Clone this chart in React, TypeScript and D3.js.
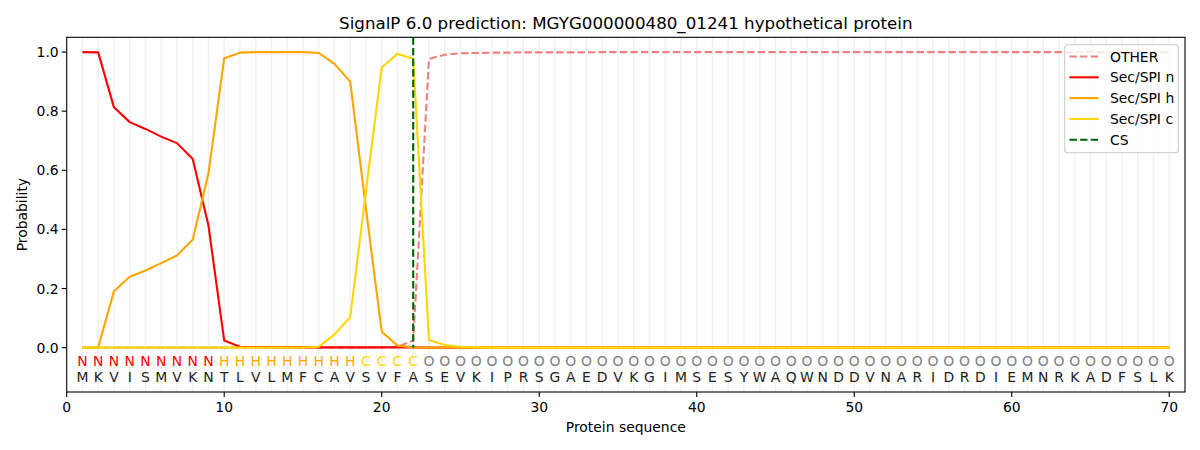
import React from "react";
import * as d3 from "d3";

const sequence = "MKVISMVKNTLVLMFCAVSVFASEVKIPRSGAEDVKGIMSESYWAQWNDDVNARIDRDIEMNRKADFSLK".split("");
const regionLabels = "NNNNNNNNNHHHHHHHHHCCCCOOOOOOOOOOOOOOOOOOOOOOOOOOOOOOOOOOOOOOOOOOOOOOOO".split("");

const otherProb = [
  0, 0, 0, 0, 0, 0, 0, 0, 0, 0,
  0, 0, 0, 0, 0, 0, 0, 0, 0, 0.001,
  0.003, 0.024, 0.977, 0.991, 0.996, 0.997, 0.998, 0.998, 0.999, 0.999,
  0.999, 0.999, 0.999, 1, 1, 1, 1, 1, 1, 1,
  1, 1, 1, 1, 1, 1, 1, 1, 1, 1,
  1, 1, 1, 1, 1, 1, 1, 1, 1, 1,
  1, 1, 1, 1, 1, 1, 1, 1, 1, 1,
];
const secN = [
  1.0, 0.999, 0.813, 0.763, 0.74, 0.714, 0.692, 0.638, 0.413, 0.024,
  0.003, 0.002, 0.001, 0.001, 0.001, 0.001, 0.001, 0.001, 0.001, 0.001,
  0.001, 0.001, 0, 0, 0, 0, 0, 0, 0, 0,
  0, 0, 0, 0, 0, 0, 0, 0, 0, 0,
  0, 0, 0, 0, 0, 0, 0, 0, 0, 0,
  0, 0, 0, 0, 0, 0, 0, 0, 0, 0,
  0, 0, 0, 0, 0, 0, 0, 0, 0, 0,
];
const secH = [
  0, 0.001, 0.191, 0.24, 0.261, 0.286, 0.312, 0.365, 0.59, 0.979,
  0.998, 1.0, 1.0, 1.0, 1.0, 0.997, 0.96, 0.9, 0.47, 0.054,
  0.007, 0.001, 0, 0, 0, 0, 0, 0, 0, 0,
  0, 0, 0, 0, 0, 0, 0, 0, 0, 0,
  0, 0, 0, 0, 0, 0, 0, 0, 0, 0,
  0, 0, 0, 0, 0, 0, 0, 0, 0, 0,
  0, 0, 0, 0, 0, 0, 0, 0, 0, 0,
];
const secC = [
  0, 0, 0, 0, 0, 0, 0, 0, 0, 0,
  0, 0, 0, 0, 0, 0.003, 0.045, 0.103, 0.53, 0.948,
  0.994, 0.977, 0.026, 0.009, 0.003, 0.001, 0, 0, 0, 0,
  0, 0, 0, 0, 0, 0, 0, 0, 0, 0,
  0, 0, 0, 0, 0, 0, 0, 0, 0, 0,
  0, 0, 0, 0, 0, 0, 0, 0, 0, 0,
  0, 0, 0, 0, 0, 0, 0, 0, 0, 0,
];
const cleavageSite = 22;
const xTicks = [0, 10, 20, 30, 40, 50, 60, 70];
const yTicks = [0, 0.2, 0.4, 0.6, 0.8, 1.0];
const title = "SignalP 6.0 prediction: MGYG000000480_01241 hypothetical protein";

const series = [
  { name: "OTHER", values: otherProb, color: "#F08080", dash: "7.4,3.2" },
  { name: "Sec/SPI n", values: secN, color: "#FF0000", dash: null },
  { name: "Sec/SPI h", values: secH, color: "#FFA500", dash: null },
  { name: "Sec/SPI c", values: secC, color: "#FFD700", dash: null },
];
const labelColors: Record<string, string> = { N: "#FF0000", H: "#FFA500", C: "#FFD700", O: "#808080" };

const W = 1200, H = 450;
const left = 66.7, right = 1185, top = 37.3, bottom = 392;
const font = "'DejaVu Sans', sans-serif";

export default function App() {
  const x = d3.scaleLinear().domain([0, 71]).range([left, right]);
  const y = d3.scaleLinear().domain([-0.15, 1.05]).range([bottom, top]);
  const positions = sequence.map((_, i) => i + 1);
  const line = d3.line<number>().x((_, i) => x(i + 1)).y((v) => y(v));

  const legendItems = [
    ...series.map((s) => ({ name: s.name, color: s.color, dash: s.dash })),
    { name: "CS", color: "#006400", dash: "7.4,3.2" },
  ];

  return (
    <svg width={W} height={H} style={{ position: "absolute", left: 0, top: 0, background: "#fff" }} fontFamily={font}>
      <rect x={0} y={0} width={W} height={H} fill="#fff" />
      <text x={(left + right) / 2} y={29} textAnchor="middle" fontSize={16.7} fill="#000">{title}</text>
      {positions.map((p) => (
        <line key={"g" + p} x1={x(p)} x2={x(p)} y1={top} y2={bottom} stroke="#f0f0f0" strokeWidth={1.4} />
      ))}
      {series.map((s) => (
        <path key={s.name} d={line(s.values) || ""} fill="none" stroke={s.color} strokeWidth={2.1}
          strokeDasharray={s.dash || undefined} strokeLinejoin="round" />
      ))}
      <line x1={x(cleavageSite)} x2={x(cleavageSite)} y1={top} y2={y(0)} stroke="#006400" strokeWidth={2.1} strokeDasharray="7.4,3.2" />
      {positions.map((p, i) => (
        <g key={"t" + p}>
          <text x={x(p)} y={366} textAnchor="middle" fontSize={13.9} fill={labelColors[regionLabels[i]]}>{regionLabels[i]}</text>
          <text x={x(p)} y={382} textAnchor="middle" fontSize={13.9} fill="#222">{sequence[i]}</text>
        </g>
      ))}
      <rect x={left} y={top} width={right - left} height={bottom - top} fill="none" stroke="#000" strokeWidth={1.1} />
      {xTicks.map((t) => (
        <g key={"xt" + t}>
          <line x1={x(t)} x2={x(t)} y1={bottom} y2={bottom + 4.9} stroke="#000" strokeWidth={1.1} />
          <text x={x(t)} y={bottom + 19.5} textAnchor="middle" fontSize={13.9} fill="#000">{t}</text>
        </g>
      ))}
      {yTicks.map((t) => (
        <g key={"yt" + t}>
          <line x1={left - 4.9} x2={left} y1={y(t)} y2={y(t)} stroke="#000" strokeWidth={1.1} />
          <text x={left - 8} y={y(t) + 5} textAnchor="end" fontSize={13.9} fill="#000">{t.toFixed(1)}</text>
        </g>
      ))}
      <text x={(left + right) / 2} y={432} textAnchor="middle" fontSize={13.9} fill="#000">Protein sequence</text>
      <text transform={`translate(26.5,${(top + bottom) / 2}) rotate(-90)`} textAnchor="middle" fontSize={13.9} fill="#000">Probability</text>
      <g>
        <rect x={1064.7} y={44.7} width={113.6} height={108} rx={3} fill="#fff" fillOpacity={0.8} stroke="#cccccc" strokeWidth={1.1} />
        {legendItems.map((it, i) => {
          const cy = 56.5 + i * 20.8;
          return (
            <g key={"l" + it.name}>
              <line x1={1069.5} x2={1098.7} y1={cy} y2={cy} stroke={it.color} strokeWidth={2.1} strokeDasharray={it.dash || undefined} />
              <text x={1110} y={cy + 5} fontSize={13.9} fill="#000">{it.name}</text>
            </g>
          );
        })}
      </g>
    </svg>
  );
}
